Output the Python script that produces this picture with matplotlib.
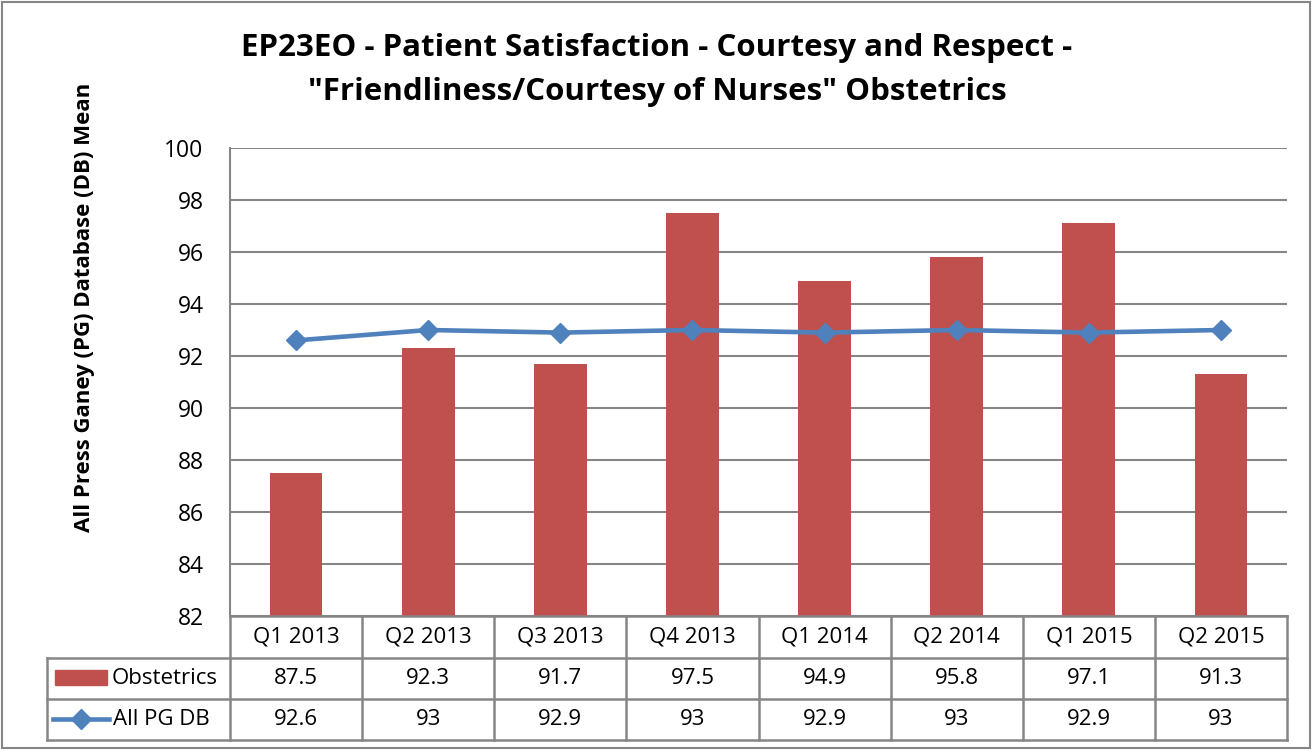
import matplotlib.pyplot as plt
from matplotlib.patches import Rectangle

# data
quarters = ["Q1 2013", "Q2 2013", "Q3 2013", "Q4 2013", "Q1 2014", "Q2 2014", "Q1 2015", "Q2 2015"]
obstetrics = [87.5, 92.3, 91.7, 97.5, 94.9, 95.8, 97.1, 91.3]
all_pg_db = [92.6, 93, 92.9, 93, 92.9, 93, 92.9, 93]
obst_labels = ["87.5", "92.3", "91.7", "97.5", "94.9", "95.8", "97.1", "91.3"]
pg_labels = ["92.6", "93", "92.9", "93", "92.9", "93", "92.9", "93"]
y_ticks = [82, 84, 86, 88, 90, 92, 94, 96, 98, 100]

RED = "#C0504D"
BLUE = "#4F81BD"
GRID = "#868686"
FONT = "Open Sans"

W, H = 1314, 753
fig = plt.figure(figsize=(W / 100, H / 100), dpi=100)

# plot area in pixel terms
left, right, top, bottom = 230, 1287, 148, 616
ax = fig.add_axes([left / W, 1 - bottom / H, (right - left) / W, (bottom - top) / H])

x = list(range(len(quarters)))
ax.bar(x, obstetrics, width=0.4, color=RED, zorder=2)
ax.plot(x, all_pg_db, color=BLUE, lw=3.3, marker="D", markersize=10, zorder=3)

ax.set_xlim(-0.5, len(quarters) - 0.5)
ax.set_ylim(82, 100)
ax.set_yticks(y_ticks)
ax.set_yticklabels([str(t) for t in y_ticks], fontsize=16.5, family=FONT)
ax.tick_params(axis="y", length=0, pad=19)
ax.set_xticks([])
ax.grid(axis="y", color=GRID, lw=1.5, zorder=0)
for s in ["top", "right", "bottom"]:
    ax.spines[s].set_visible(False)
ax.spines["left"].set_color(GRID)
ax.spines["left"].set_linewidth(1.5)
ax.set_axisbelow(True)

# overlay axes in pixel coordinates for the data table and frame
ov = fig.add_axes([0, 0, 1, 1], zorder=5)
ov.set_xlim(0, W)
ov.set_ylim(H, 0)
ov.axis("off")
ov.patch.set_alpha(0)

lc = dict(color=GRID, lw=1.8)
row_y = [616, 658, 699, 740]
col_w = (right - left) / len(quarters)
tab_left = 47
ov.plot([left, right], [row_y[0], row_y[0]], **lc)
for yy in row_y[1:]:
    ov.plot([tab_left, right], [yy, yy], **lc)
for i in range(len(quarters) + 1):
    xx = left + i * col_w
    ov.plot([xx, xx], [row_y[0], row_y[-1]], **lc)
ov.plot([tab_left, tab_left], [row_y[1], row_y[-1]], **lc)

txt = dict(fontsize=16, family=FONT, ha="center", va="center")
for i, q in enumerate(quarters):
    cx = left + (i + 0.5) * col_w
    ov.text(cx, (row_y[0] + row_y[1]) / 2, q, **txt)
    ov.text(cx, (row_y[1] + row_y[2]) / 2, obst_labels[i], **txt)
    ov.text(cx, (row_y[2] + row_y[3]) / 2, pg_labels[i], **txt)

# legend keys inside the table
ov.add_patch(Rectangle((55, 670), 52, 15, color=RED))
ov.text(112, (row_y[1] + row_y[2]) / 2, "Obstetrics", fontsize=16, family=FONT, va="center")
ov.plot([53, 109], [719, 719], color=BLUE, lw=3.3)
ov.plot([81], [719], color=BLUE, marker="D", markersize=10)
ov.text(113, (row_y[2] + row_y[3]) / 2, "All PG DB", fontsize=16, family=FONT, va="center")

# outer chart frame
ov.add_patch(Rectangle((2, 2), 1308, 746, fill=False, ec=GRID, lw=1.5))

fig.text(657 / W, 1 - 48 / H, "EP23EO - Patient Satisfaction - Courtesy and Respect -",
         fontsize=22.5, weight="bold", family=FONT, ha="center", va="center")
fig.text(657 / W, 1 - 92 / H, "\"Friendliness/Courtesy of Nurses\" Obstetrics",
         fontsize=22.5, weight="bold", family=FONT, ha="center", va="center")
fig.text(85 / W, 1 - 307 / H, "All Press Ganey (PG) Database (DB) Mean",
         fontsize=16, weight="bold", family=FONT, rotation=90, ha="center", va="center")

fig.savefig("out.png", dpi=100)
